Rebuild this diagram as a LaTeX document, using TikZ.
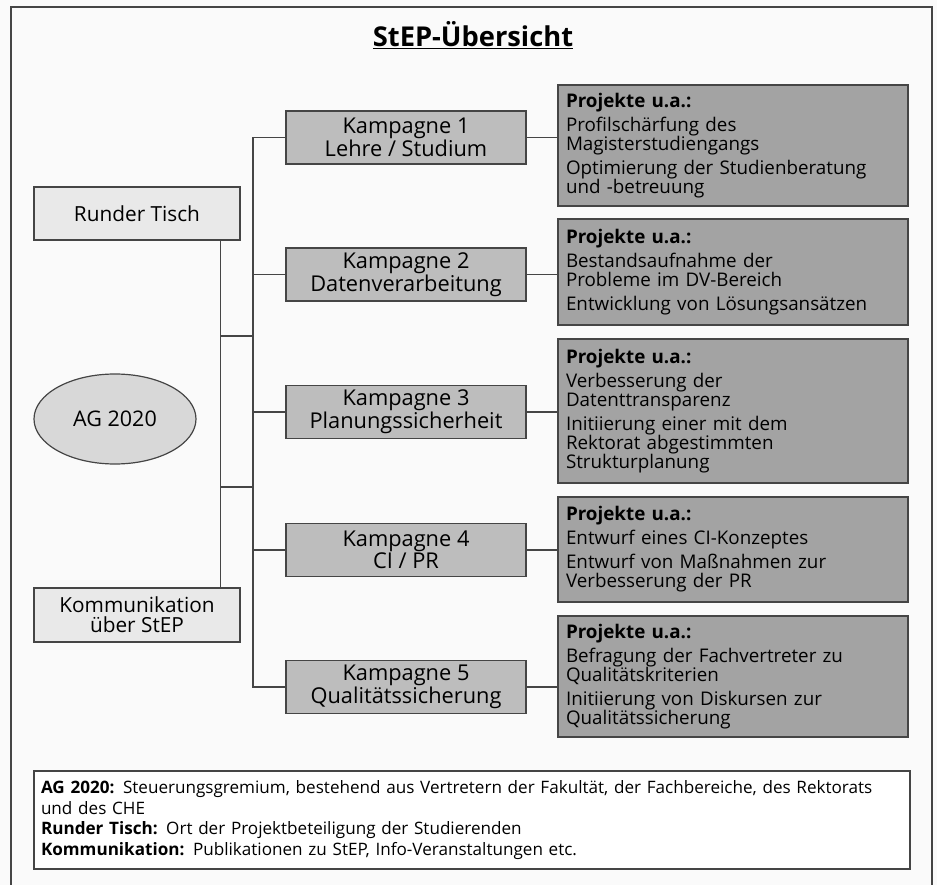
\documentclass[tikz,border=0pt]{standalone}
\usepackage{fontspec}
\setmainfont{Open Sans}
\usetikzlibrary{shapes.geometric}
\definecolor{kfill}{HTML}{BDBDBD}
\definecolor{pfill}{HTML}{A3A3A3}
\definecolor{lfill}{HTML}{E9E9E9}
\definecolor{efill}{HTML}{D8D8D8}
\definecolor{lnc}{HTML}{454545}
\definecolor{bgc}{HTML}{FAFAFA}
\tikzset{
  conn/.style={draw=lnc, line width=1.2pt},
  kbox/.style={draw=lnc, line width=1.2pt, fill=kfill, minimum width=240pt, minimum height=53pt, inner sep=0pt, align=center, font=\fontsize{21.8}{21}\selectfont},
  pbox/.style={draw=lnc, line width=1.2pt, fill=pfill, text width=334pt, inner xsep=8pt, inner ysep=0pt, align=left, font=\fontsize{18.8}{19}\selectfont},
  lbox/.style={draw=lnc, line width=1.2pt, fill=lfill, minimum width=206pt, inner sep=0pt, align=center, font=\fontsize{20.8}{20}\selectfont},
  ebox/.style={ellipse, draw=lnc, line width=1.2pt, fill=efill, minimum width=162pt, minimum height=90pt, inner sep=0pt, font=\fontsize{21.5}{21}\selectfont},
  fbox/.style={draw=lnc, line width=1.2pt, fill=white, minimum width=876pt, minimum height=98pt, text width=862pt, inner xsep=7pt, inner ysep=0pt, align=left, font=\fontsize{17.1}{20.5}\selectfont},
}
\begin{document}
\begin{tikzpicture}[x=1pt, y=-1pt]
\useasboundingbox (0,0) rectangle (937,885);
\fill[bgc] (0,0) rectangle (937,885);
\draw[draw=lnc, line width=1.2pt] (11,890) -- (11,7) -- (932,7) -- (932,890);

\node[anchor=base, font=\bfseries\fontsize{27.3}{27}\selectfont] (title) at (473,47) {\underline{StEP-Übersicht}};

\node[kbox] (k1) at (406,137.5) {Kampagne 1\\Lehre / Studium};
\node[kbox] (k2) at (406,274.5) {Kampagne 2\\Datenverarbeitung};
\node[kbox] (k3) at (406,412) {Kampagne 3\\Planungssicherheit};
\node[kbox] (k4) at (406,550) {Kampagne 4\\CI / PR};
\node[kbox] (k5) at (406,687) {Kampagne 5\\Qualitätssicherung};

\node[pbox, minimum height=121pt] (p1) at (733,145.5) {\textbf{Projekte u.a.:}\\[5pt]Profilschärfung des\\Magisterstudiengangs\\[5pt]Optimierung der Studienberatung\\und -betreuung};
\node[pbox, minimum height=106pt] (p2) at (733,272) {\textbf{Projekte u.a.:}\\[5pt]Bestandsaufnahme der\\Probleme im DV-Bereich\\[5pt]Entwicklung von Lösungsansätzen};
\node[pbox, minimum height=144pt] (p3) at (733,411) {\textbf{Projekte u.a.:}\\[5pt]Verbesserung der\\Datenttransparenz\\[5pt]Initiierung einer mit dem\\Rektorat abgestimmten\\Strukturplanung};
\node[pbox, minimum height=105pt] (p4) at (733,549.5) {\textbf{Projekte u.a.:}\\[5pt]Entwurf eines CI-Konzeptes\\[5pt]Entwurf von Maßnahmen zur\\Verbesserung der PR};
\node[pbox, minimum height=121pt] (p5) at (733,676.5) {\textbf{Projekte u.a.:}\\[5pt]Befragung der Fachvertreter zu\\Qualitätskriterien\\[5pt]Initiierung von Diskursen zur\\Qualitätssicherung};

\node[lbox, minimum height=53pt] (rt) at (137,213.5) {Runder Tisch};
\node[lbox, minimum height=54pt] (komm) at (137,615) {Kommunikation\\über StEP};
\node[ebox] (ag) at (115,419) {AG 2020};

\node[fbox] (foot) at (472,820) {\textbf{AG 2020:} Steuerungsgremium, bestehend aus Vertretern der Fakultät, der Fachbereiche, des Rektorats\\und des CHE\\\textbf{Runder Tisch:} Ort der Projektbeteiligung der Studierenden\\\textbf{Kommunikation:} Publikationen zu StEP, Info-Veranstaltungen etc.};

% connectors
\coordinate (bx) at (253,0);
\coordinate (c1a) at (220,336);
\coordinate (c1b) at (253,336);
\coordinate (c2a) at (220,487);
\coordinate (c2b) at (253,487);
\draw[conn] ([xshift=-20pt]rt.south east) -- ([xshift=-20pt]komm.north east);
\draw[conn] (k1.west) -- (k1.west -| bx) -- (k5.west -| bx) -- (k5.west);
\draw[conn] (k2.west -| bx) -- (k2.west);
\draw[conn] (k3.west -| bx) -- (k3.west);
\draw[conn] (k4.west -| bx) -- (k4.west);
\draw[conn] (c1a) -- (c1b);
\draw[conn] (c2a) -- (c2b);
\draw[conn] (k1.east) -- (k1.east -| p1.west);
\draw[conn] (k2.east) -- (k2.east -| p2.west);
\draw[conn] (k3.east) -- (k3.east -| p3.west);
\draw[conn] (k4.east) -- (k4.east -| p4.west);
\draw[conn] (k5.east) -- (k5.east -| p5.west);
\end{tikzpicture}
\end{document}
